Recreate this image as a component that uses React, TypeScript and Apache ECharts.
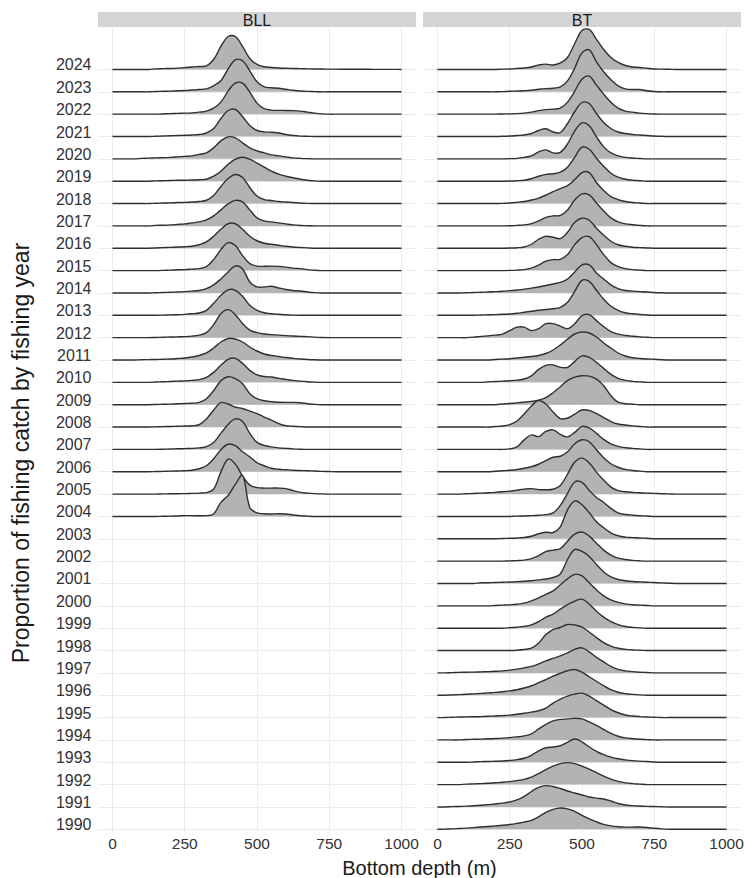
import React, { useEffect, useRef } from "react";
import * as echarts from "echarts";

// Depth grid (m) at which each density curve is sampled
const DEPTHS = [0, 25, 50, 75, 100, 125, 150, 175, 200, 225, 250, 275, 300, 325, 350, 375, 400, 425, 450, 475, 500, 525, 550, 575, 600, 625, 650, 675, 700, 725, 750, 775, 800, 825, 850, 875, 900, 925, 950, 975, 1000];
const DEPTH_TICKS = [0, 250, 500, 750, 1000];
const YEARS = [1990, 1991, 1992, 1993, 1994, 1995, 1996, 1997, 1998, 1999, 2000, 2001, 2002, 2003, 2004, 2005, 2006, 2007, 2008, 2009, 2010, 2011, 2012, 2013, 2014, 2015, 2016, 2017, 2018, 2019, 2020, 2021, 2022, 2023, 2024];
const BLL_YEARS = [2024, 2023, 2022, 2021, 2020, 2019, 2018, 2017, 2016, 2015, 2014, 2013, 2012, 2011, 2010, 2009, 2008, 2007, 2006, 2005, 2004];
const BT_YEARS = [2024, 2023, 2022, 2021, 2020, 2019, 2018, 2017, 2016, 2015, 2014, 2013, 2012, 2011, 2010, 2009, 2008, 2007, 2006, 2005, 2004, 2003, 2002, 2001, 2000, 1999, 1998, 1997, 1996, 1995, 1994, 1993, 1992, 1991, 1990];

// Relative density (units; ROW_UNITS units = one row spacing)
const ROW_UNITS = 22.35;

// ---- BLL ----
const bll2024 = [0,0,0,0,0,0,0.6,0.8,1,1.3,1.8, 2.5,3,3.5,10,23,33,33,23,11,5, 2.7,2,1.5,1.2,1,0.8,0.6,0.5,0.4,0.3, 0.3,0.2,0.2,0.2,0.2,0.1,0.1,0.1,0.1,0];
const bll2023 = [0,0,0,0,0,0,0.3,0.5,0.7,1,1.3, 1.8,2.3,3,6,11,23,32,31,21,10, 5,4,3.5,2.5,1.5,0.8,0.4,0.2,0,0, 0,0,0,0,0,0,0,0,0,0];
const bll2022 = [0,0,0,0,0,0,0,0.2,0.5,0.8,1, 1.3,2,3,6,12,23,31,31,22,11, 5.5,4,3.8,3.7,3.5,3,2,1,0.3,0, 0,0,0,0,0,0,0,0,0,0];
const bll2021 = [0,0,0,0,0,0,0.3,0.5,0.7,1,1.2, 1.5,2,3.5,8,18,26,27,20,11,6, 4.6,4.3,3.5,2,1,0.4,0.2,0,0,0, 0,0,0,0,0,0,0,0,0,0];
const bll2020 = [0,0,0,0,0.5,0.7,1,1.2,1.5,2,2.5, 3,4.5,6,11,18,22,21,16,11,8, 6,4,3,2,1,0.5,0.2,0,0,0, 0,0,0,0,0,0,0,0,0,0];
const bll2019 = [0,0,0,0,0,0,0.3,0.5,0.7,0.9,1, 1.2,1.5,2,5,10,17,22,24,22,18, 14,10,7,5,3.5,2,1,0.3,0,0, 0,0,0,0,0,0,0,0,0,0];
const bll2018 = [0,0,0,0,0,0,0.3,0.5,0.7,1,1.2, 1.5,2,3.3,8,17,25,29,26,16,7.5, 4,3,2,1.5,1,0.5,0.2,0,0,0, 0,0,0,0,0,0,0,0,0,0];
const bll2017 = [0,0,0,0,0,0,0.5,0.7,1,1.5,2, 3,4,6,10,16,22,25.5,24,16,8, 5,4,3,2,1,0.4,0.2,0,0,0, 0,0,0,0,0,0,0,0,0,0];
const bll2016 = [0,0,0,0,0,0,0.3,0.6,0.9,1.2,1.5, 2,3.5,6.3,12,19,24.5,24.5,19,12,7.5, 5,4,3,2,1.2,0.8,0.4,0,0,0, 0,0,0,0,0,0,0,0,0,0];
const bll2015 = [0,0,0,0,0,0,0,0.2,0.5,0.8,1, 1.5,2,4,11,21,28,25,15,7,4.5, 4.3,4.5,4.2,3.5,2.5,2,1,0.3,0,0, 0,0,0,0,0,0,0,0,0,0];
const bll2014 = [0,0,0,0,0,0,0.2,0.4,0.7,1,1.3, 1.8,2.5,4.3,8,14,21,27,24,11,6, 6,6.7,5,3.5,2.5,2,1,0.3,0,0, 0,0,0,0,0,0,0,0,0,0];
const bll2013 = [0,0,0,0,0,0,0,0.2,0.4,0.6,0.9, 1.5,2.3,5,12,20,25.5,25,19,10,5, 2.5,1.5,1,0.5,0.2,0,0,0,0,0, 0,0,0,0,0,0,0,0,0,0];
const bll2012 = [0,0,0,0,0,0,0.2,0.4,0.6,0.8,1, 1.5,2.5,5,13,24,28,23,14,7.5,5, 3.6,3,2.5,2,1.6,1.3,1,0.5,0.2,0, 0,0,0,0,0,0,0,0,0,0];
const bll2011 = [0,0,0,0,0.3,0.4,0.5,0.8,1,1.5,2, 3,4.5,7,12,18,21.5,21,18,13,9, 6,4.5,3.5,2.5,1.7,1,0.5,0.2,0,0, 0,0,0,0,0,0,0,0,0,0];
const bll2010 = [0,0,0,0,0,0,0.3,0.6,0.9,1.2,1.5, 2,2.7,5,10,17,23,24,19,12,7.5, 5.8,5.3,4,3,2,1.2,0.6,0.2,0,0, 0,0,0,0,0,0,0,0,0,0];
const bll2009 = [0,0,0,0,0,0,0.2,0.4,0.6,0.9,1.2, 1.5,2.3,6,14,24,28,26,21,11,6, 4,3,2.5,2.3,2.3,2,1,0.3,0,0, 0,0,0,0,0,0,0,0,0,0];
const bll2008 = [0,0,0,0,0,0,0.2,0.4,0.6,0.8,1, 1.3,2.3,8,17,24.5,23,20,18.5,16,13.5, 10,7,3.5,1.3,0.8,0.4,0,0,0,0, 0,0,0,0,0,0,0,0,0,0];
const bll2007 = [0,0,0,0,0,0,0,0.2,0.4,0.6,0.8, 1,1.5,2.7,7,16,25,30.5,28,16,7, 4,2.5,1.5,1,0.5,0.2,0,0,0,0, 0,0,0,0,0,0,0,0,0,0];
const bll2006 = [0,0,0,0,0,0,0.2,0.4,0.6,0.8,1, 1.5,3,6,13,22,27.5,26,20,15,9, 6,3.5,2.5,2,1.5,1.2,1,0.7,0.4,0.2, 0,0,0,0,0,0,0,0,0,0];
const bll2005 = [0,0,0,0,0,0,0,0.2,0.3,0.4,0.5, 0.7,1,1.5,5,22,35,30,18,9,6.5, 6,6,6,5.5,3.5,1.7,1,0.5,0.2,0, 0,0,0,0,0,0,0,0,0,0];
const bll2004 = [0,0,0,0,0,0,0,0.2,0.3,0.5,0.8, 0.8,0.7,0.8,2.5,14,21,32,41,9,3.5, 2.7,2.5,2.7,2.5,1.5,0.7,0.3,0,0,0, 0,0,0,0,0,0,0,0,0,0];

// ---- BT ----
const bt2024 = [0,0,0,0,0,0,0,0,0,0.3,0.5, 1,1.5,2.5,4.5,5.3,4.5,6.5,12,26,39, 40,30,20,12,7,4,2.5,2,1.2,0.5, 0.3,0.2,0,0,0,0,0,0,0,0];
const bt2023 = [0,0,0,0,0,0,0,0,0,0.2,0.5, 0.8,1,1.5,2.5,3.2,3.5,5,11,24,39, 42,30,20,12,6,3,2.3,2.3,1,0.3, 0,0,0,0,0,0,0,0,0,0];
const bt2022 = [0,0,0,0,0,0,0,0,0,0.2,0.3, 0.5,1,2,3.5,4.5,5,6,12,23,35, 38,29,20,12,6,3,2,1,0.5,0.2, 0,0,0,0,0,0,0,0,0,0];
const bt2021 = [0,0,0,0,0,0,0,0,0,0.2,0.5, 1,1.5,3,6,7.7,4.5,4,13,25,34, 33,23,14,8,4.5,3,2,1.5,1,0.5, 0.2,0,0,0,0,0,0,0,0,0];
const bt2020 = [0,0,0,0,0,0,0,0,0,0,0.2, 0.5,1.5,3,7,9,6,6.5,15,28,36, 33,22,12,6,3,1.5,0.8,0.4,0,0, 0,0,0,0,0,0,0,0,0,0];
const bt2019 = [0,0,0,0,0,0,0,0,0,0,0.2, 0.5,1,2.5,5,6.8,7.5,9,14,24,34, 32,23,15,8,4,2,1,0.5,0,0, 0,0,0,0,0,0,0,0,0,0];
const bt2018 = [0,0,0,0,0,0,0,0,0,0.2,0.5, 1.2,2,3.5,5.5,8.5,12,15,18,24,31, 31,21,13,7,4,2,1,0.5,0,0, 0,0,0,0,0,0,0,0,0,0];
const bt2017 = [0,0,0,0,0,0,0,0,0,0,0.2, 0.5,1,2.3,5,8.5,10,10.5,16,26,32, 31,23,15,8,4,2,1.2,0.5,0,0, 0,0,0,0,0,0,0,0,0,0];
const bt2016 = [0,0,0,0,0,0,0,0,0,0,0.2, 0.5,1.3,4,9,12,11,9.7,16,26,30, 28,20,13,7,3.5,2,1,0.6,0.3,0, 0,0,0,0,0,0,0,0,0,0];
const bt2015 = [0,0,0,0,0,0,0,0,0,0,0.2, 0.5,1,2.5,5.5,9.5,11,11.3,16,26,33, 34,26,16,8,4,2,1,0.5,0,0, 0,0,0,0,0,0,0,0,0,0];
const bt2014 = [0,0,0,0,0.2,0.4,0.7,1,1.3,1.7,2.3, 2.9,3.8,4.8,6,7.5,9,10.5,14,21,28, 28,20,14,8,4.3,2.5,1.8,1.3,1,0.5, 0.2,0,0,0,0,0,0,0,0,0];
const bt2013 = [0,0,0,0,0,0,0.3,0.5,0.7,1,1.3, 2,3,4,5,5.8,6.5,8,13,24,35, 34,25,16,9,5,2.5,1.5,0.8,0.3,0, 0,0,0,0,0,0,0,0,0,0];
const bt2012 = [0,0,0,0,0,0.5,1.3,1.8,2.5,3.5,7, 10.5,10.5,7,9,14,14,11.5,9,14,22, 23,17,11,6,3.5,2.2,1.4,0.8,0.4,0, 0,0,0,0,0,0,0,0,0,0];
const bt2011 = [0,0,0,0,0,0,0,0,0.5,0.9,1.3, 2,2.7,3.5,4.5,6.5,10,15,21,26,28, 27,23,17,12,7,4,2.3,1.5,1,0.7, 0.3,0,0,0,0,0,0,0,0,0];
const bt2010 = [0,0,0,0,0,0,0,0.5,0.8,1.2,1.6, 2.2,3.3,6.5,13,17,17.5,15,15,21,26.5, 25,20,14,8,4,2,1,0.5,0,0, 0,0,0,0,0,0,0,0,0,0];
const bt2009 = [0,0,0,0,0,0,0,0,0,0.7,1.2, 1.8,2.5,3.3,4.5,7,12,18,24,27.5,29, 28.5,25.5,19,9,2.5,1,0.5,0,0,0, 0,0,0,0,0,0,0,0,0,0];
const bt2008 = [0,0,0,0,0,0,0,0,0.5,1,2.5, 6,13,21,26.5,23,15,8.5,9,13,17, 16.5,13.5,9.5,5.5,3,2,1.2,0.6,0,0, 0,0,0,0,0,0,0,0,0,0];
const bt2007 = [0,0,0,0,0,0,0,0,0,0,0.5, 2.5,9.5,14.5,12.8,18,19.5,15,12.5,17,23, 21.5,16,10,5.5,3,1.7,1,0.5,0,0, 0,0,0,0,0,0,0,0,0,0];
const bt2006 = [0,0,0,0,0,0,0,0,0.5,1,1.5, 2.3,3.5,5,7.5,11,14.5,15.5,20,28,32, 30,22,14,8,4.5,2.3,1.2,0.6,0,0, 0,0,0,0,0,0,0,0,0,0];
const bt2005 = [0,0,0,0,0.3,0.6,1,1.3,1.7,2.3,3, 4,5,5.5,4.5,4.3,4.8,8.5,20,32,36, 31,22,14,7,3.5,2.3,1.7,1.3,1,0.7, 0.4,0.2,0,0,0,0,0,0,0,0];
const bt2004 = [0,0,0,0,0,0,0,0,0,0,0, 0.3,0.5,0.8,1.2,1.8,3.5,11,23,34.5,34, 26,19,14,8,3.5,2,1.2,0.7,0.4,0, 0,0,0,0,0,0,0,0,0,0];
const bt2003 = [0,0,0,0,0,0,0,0,0,0.3,0.5, 0.8,1.3,2.5,5,6.5,6.3,12,29,38,34, 26,17,11,6,3,1.7,1.2,0.8,0.5,0, 0,0,0,0,0,0,0,0,0,0];
const bt2002 = [0,0,0,0,0,0,0,0,0,0,0.3, 0.5,1,2.5,5.5,9.5,11,12.5,20,27,29, 25,18,11,6,3,1.7,0.8,0.3,0,0, 0,0,0,0,0,0,0,0,0,0];
const bt2001 = [0,0,0,0,0,0,0.7,0.8,1,1.2,1.5, 1.8,2.2,2.8,3.6,4.5,6,9.5,24,34,32, 27,19,11.5,6.5,4,2.8,2,1.6,1.3,1, 0.6,0.3,0,0,0,0,0,0,0,0];
const bt2000 = [0,0,0,0,0,0,0,0,0.4,0.7,1, 1.6,2.7,5,8,11.5,15,21,27,31.5,30, 23,16,10,6,3.5,2,1.1,0.7,0.4,0, 0,0,0,0,0,0,0,0,0,0];
const bt1999 = [0,0,0,0,0,0,0,0,0,0,0.5, 1,1.8,3.3,6.5,11,14,19,23.5,27,29, 24,17,11,6.5,3.5,1.7,0.8,0.3,0,0, 0,0,0,0,0,0,0,0,0,0];
const bt1998 = [0,0,0,0,0,0,0,0,0,0,0, 0.3,1,2.3,7.5,16,21,23,26,25.5,23.5, 18.5,13,8,4.5,2.3,1.2,0.6,0.3,0,0, 0,0,0,0,0,0,0,0,0,0];
const bt1997 = [0,0,0.3,0.5,0.7,0.8,1,1.3,1.6,2,2.7, 3.7,5,6.5,9,12,14.5,17,20,23.5,25, 21,15.5,11,6.5,3.5,2,1.2,0.7,0.4,0, 0,0,0,0,0,0,0,0,0,0];
const bt1996 = [0,0,0.3,0.6,1,1.4,1.8,2.3,2.8,3.5,4.3, 5.5,7.2,9.5,12.5,15.5,19,22,24.5,25.7,23, 18.5,14,9.5,5.5,3,1.6,0.8,0.3,0,0, 0,0,0,0,0,0,0,0,0,0];
const bt1995 = [0,0,0.3,0.5,0.7,0.8,1,1.3,1.6,2,2.5, 3.3,4.3,5.5,6.8,9.5,14.5,18.5,21.5,23.5,24.4, 21.5,17,12.5,8,4.8,2.6,1.6,1,0.6,0.3, 0,0,0,0,0,0,0,0,0,0];
const bt1994 = [0,0,0,0,0.4,0.6,0.8,1.1,1.4,1.8,2.3, 3,4,6,11,15.5,19,20.5,21,21.7,21, 18,14.5,10.5,6.5,3.7,2,1.2,0.6,0.3,0, 0,0,0,0,0,0,0,0,0,0];
const bt1993 = [0,0,0,0,0,0.3,0.6,0.8,1,1.3,1.8, 2.6,4,7,11.5,14.5,15.3,16.5,20,23.3,20.5, 15.3,11,7.6,5.2,3.5,2.4,1.6,1.1,0.7,0.3, 0,0,0,0,0,0,0,0,0,0];
const bt1992 = [0,0,0,0,0.5,0.7,1,1.3,1.8,2.3,3, 4,5.3,7.5,11,15,18.5,21,22,21,18.5, 15.5,12,8.5,5.5,3.3,1.8,1,0.5,0,0, 0,0,0,0,0,0,0,0,0,0];
const bt1991 = [0,0,0.3,0.5,0.8,1.2,1.7,2.3,3,3.8,5, 7,10.5,15.5,19.5,21.3,20.5,18.5,16,14,12, 10,8.8,8,6,3.5,2,1.3,0.9,0.6,0.4, 0.2,0,0,0,0,0,0,0,0,0];
const bt1990 = [0,0.2,0.4,0.8,1.2,1.7,2.3,2.8,3.4,4,4.8, 5.9,7.2,9,12.5,17,20,21.3,20.5,18,14, 10.5,7.5,5,3.5,2.6,2.2,2.2,2.3,1.8,1, 0.4,0.1,0,0,0,0,0,0,0,0];

const BLL_CURVES = [bll2024, bll2023, bll2022, bll2021, bll2020, bll2019, bll2018, bll2017, bll2016, bll2015, bll2014, bll2013, bll2012, bll2011, bll2010, bll2009, bll2008, bll2007, bll2006, bll2005, bll2004];
const BT_CURVES = [bt2024, bt2023, bt2022, bt2021, bt2020, bt2019, bt2018, bt2017, bt2016, bt2015, bt2014, bt2013, bt2012, bt2011, bt2010, bt2009, bt2008, bt2007, bt2006, bt2005, bt2004, bt2003, bt2002, bt2001, bt2000, bt1999, bt1998, bt1997, bt1996, bt1995, bt1994, bt1993, bt1992, bt1991, bt1990];

const Y_MIN = -0.12;
const Y_MAX = 35.9;
const FONT = "'Liberation Sans', Arial, Helvetica, sans-serif";

export default function App() {
  const ref = useRef<HTMLDivElement>(null);

  useEffect(() => {
    document.body.style.margin = "0";
    const chart = echarts.init(ref.current as HTMLDivElement, undefined, { renderer: "svg" });
    const rowTicks = YEARS.map((_, i) => i);

    const mkRender = (curves: number[][]) => (params: any, api: any) => {
      const row = api.value(1);
      const vals = curves[params.dataIndex];
      const pts = DEPTHS.map((d, i) => api.coord([d, row + vals[i] / ROW_UNITS]));
      return {
        type: "group",
        children: [
          { type: "polygon", shape: { points: pts, smooth: 0.35 }, style: { fill: "#b3b3b3", stroke: "none" } },
          { type: "polyline", shape: { points: pts, smooth: 0.35 }, style: { fill: "none", stroke: "#303030", lineWidth: 1.4 } },
        ],
      };
    };

    const xAxisBase = (gi: number) => ({
      type: "value",
      gridIndex: gi,
      min: -50,
      max: 1050,
      axisLine: { show: false },
      axisTick: { show: false, customValues: DEPTH_TICKS },
      axisLabel: {
        customValues: DEPTH_TICKS,
        formatter: (v: number) => String(v),
        fontSize: 15.5,
        color: "#333333",
        margin: 3,
        fontFamily: FONT,
      },
      splitLine: { show: true, lineStyle: { color: "#ebebeb", width: 1 } },
    });

    const yAxisBase = (gi: number, showLabels: boolean) => ({
      type: "value",
      gridIndex: gi,
      min: Y_MIN,
      max: Y_MAX,
      axisLine: { show: false },
      axisTick: { show: false, customValues: rowTicks },
      axisLabel: {
        show: showLabels,
        customValues: rowTicks,
        formatter: (v: number) => String(YEARS[Math.round(v)]),
        fontSize: 16,
        color: "#333333",
        margin: 6.5,
        verticalAlign: "bottom",
        lineHeight: 9,
        fontFamily: FONT,
      },
      splitLine: { show: true, lineStyle: { color: "#ebebeb", width: 1 } },
    });

    const txt = (text: string, size: number) => ({
      text,
      fontSize: size,
      fontFamily: FONT,
      fill: "#1a1a1a",
      align: "center",
      verticalAlign: "middle",
      textAlign: "center",
      textVerticalAlign: "middle",
    });

    chart.setOption({
      animation: false,
      grid: [
        { left: 98, top: 27, width: 318, height: 805, outerBoundsMode: "none" },
        { left: 423, top: 27, width: 318, height: 805, outerBoundsMode: "none" },
      ],
      xAxis: [xAxisBase(0), xAxisBase(1)],
      yAxis: [yAxisBase(0, true), yAxisBase(1, false)],
      series: [
        {
          type: "custom",
          xAxisIndex: 0,
          yAxisIndex: 0,
          encode: { x: 0, y: 1 },
          data: BLL_YEARS.map((y) => [0, YEARS.indexOf(y)]),
          renderItem: mkRender(BLL_CURVES),
          silent: true,
        },
        {
          type: "custom",
          xAxisIndex: 1,
          yAxisIndex: 1,
          encode: { x: 0, y: 1 },
          data: BT_YEARS.map((y) => [0, YEARS.indexOf(y)]),
          renderItem: mkRender(BT_CURVES),
          silent: true,
        },
      ],
      graphic: [
        { type: "rect", shape: { x: 98, y: 12, width: 318, height: 15 }, style: { fill: "#d4d4d4" }, silent: true },
        { type: "rect", shape: { x: 423, y: 12, width: 318, height: 15 }, style: { fill: "#d4d4d4" }, silent: true },
        { type: "text", x: 257, y: 20.5, style: txt("BLL", 16) },
        { type: "text", x: 582, y: 20.5, style: txt("BT", 16) },
        { type: "text", x: 20.5, y: 453, rotation: Math.PI / 2, style: txt("Proportion of fishing catch by fishing year", 23) },
        { type: "text", x: 419.5, y: 868, style: txt("Bottom depth (m)", 20) },
      ],
    });

    return () => chart.dispose();
  }, []);

  return <div ref={ref} style={{ width: 745, height: 878 }} />;
}
